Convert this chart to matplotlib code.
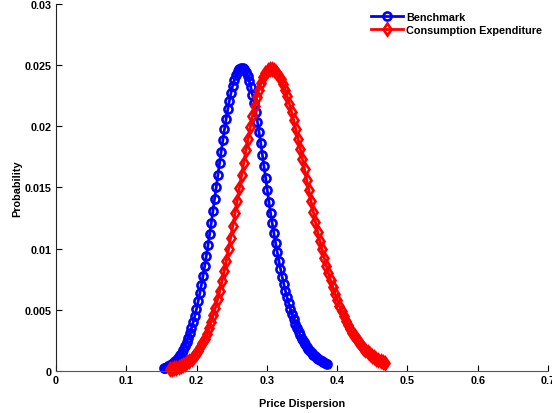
import numpy as np
import matplotlib
matplotlib.use("Agg")
import matplotlib.pyplot as plt

plt.rcParams["font.family"] = ["Liberation Sans", "DejaVu Sans"]
plt.rcParams["font.weight"] = "bold"

# kernel density estimates, 100 points each
bench_x = [
    0.1530, 0.1553, 0.1577, 0.1600, 0.1624, 0.1647, 0.1671, 0.1694, 0.1717, 0.1741,
    0.1764, 0.1788, 0.1811, 0.1835, 0.1858, 0.1882, 0.1905, 0.1928, 0.1952, 0.1975,
    0.1999, 0.2022, 0.2046, 0.2069, 0.2092, 0.2116, 0.2139, 0.2163, 0.2186, 0.2210,
    0.2233, 0.2256, 0.2280, 0.2303, 0.2327, 0.2350, 0.2374, 0.2397, 0.2420, 0.2444,
    0.2467, 0.2491, 0.2514, 0.2538, 0.2561, 0.2585, 0.2608, 0.2631, 0.2655, 0.2678,
    0.2702, 0.2725, 0.2749, 0.2772, 0.2795, 0.2819, 0.2842, 0.2866, 0.2889, 0.2913,
    0.2936, 0.2959, 0.2983, 0.3006, 0.3030, 0.3053, 0.3077, 0.3100, 0.3124, 0.3147,
    0.3170, 0.3194, 0.3217, 0.3241, 0.3264, 0.3288, 0.3311, 0.3334, 0.3358, 0.3381,
    0.3405, 0.3428, 0.3452, 0.3475, 0.3498, 0.3522, 0.3545, 0.3569, 0.3592, 0.3616,
    0.3639, 0.3662, 0.3686, 0.3709, 0.3733, 0.3756, 0.3780, 0.3803, 0.3827, 0.3850,
]
bench_p = [
    0.000214, 0.000261, 0.000317, 0.000383, 0.000461, 0.000553, 0.000660, 0.000785, 0.000930, 0.001096,
    0.001286, 0.001505, 0.001752, 0.002029, 0.002344, 0.002693, 0.003083, 0.003514, 0.003988, 0.004506,
    0.005072, 0.005684, 0.006341, 0.007048, 0.007797, 0.008591, 0.009424, 0.010297, 0.011200, 0.012132,
    0.013087, 0.014057, 0.015034, 0.016011, 0.016981, 0.017935, 0.018858, 0.019748, 0.020591, 0.021380,
    0.022104, 0.022756, 0.023329, 0.023815, 0.024210, 0.024507, 0.024701, 0.024793, 0.024779, 0.024661,
    0.024439, 0.024117, 0.023699, 0.023190, 0.022594, 0.021922, 0.021181, 0.020376, 0.019521, 0.018623,
    0.017687, 0.016732, 0.015761, 0.014779, 0.013804, 0.012899, 0.012065, 0.011258, 0.010481, 0.009737,
    0.009027, 0.008357, 0.007715, 0.007117, 0.006550, 0.006020, 0.005523, 0.005060, 0.004630, 0.004231,
    0.003863, 0.003519, 0.003207, 0.002916, 0.002648, 0.002405, 0.002181, 0.001977, 0.001789, 0.001620,
    0.001463, 0.001322, 0.001195, 0.001077, 0.000972, 0.000876, 0.000789, 0.000711, 0.000639, 0.000575,
]

cons_x = [
    0.1620, 0.1651, 0.1682, 0.1713, 0.1744, 0.1775, 0.1805, 0.1836, 0.1867, 0.1898,
    0.1929, 0.1960, 0.1991, 0.2022, 0.2053, 0.2084, 0.2115, 0.2145, 0.2176, 0.2207,
    0.2238, 0.2269, 0.2300, 0.2331, 0.2362, 0.2393, 0.2424, 0.2455, 0.2485, 0.2516,
    0.2547, 0.2578, 0.2609, 0.2640, 0.2671, 0.2702, 0.2733, 0.2764, 0.2795, 0.2825,
    0.2856, 0.2887, 0.2918, 0.2949, 0.2980, 0.3011, 0.3042, 0.3073, 0.3104, 0.3135,
    0.3165, 0.3196, 0.3227, 0.3258, 0.3289, 0.3320, 0.3351, 0.3382, 0.3413, 0.3444,
    0.3475, 0.3505, 0.3536, 0.3567, 0.3598, 0.3629, 0.3660, 0.3691, 0.3722, 0.3753,
    0.3784, 0.3815, 0.3845, 0.3876, 0.3907, 0.3938, 0.3969, 0.4000, 0.4031, 0.4062,
    0.4093, 0.4124, 0.4155, 0.4185, 0.4216, 0.4247, 0.4278, 0.4309, 0.4340, 0.4371,
    0.4402, 0.4433, 0.4464, 0.4495, 0.4525, 0.4556, 0.4587, 0.4618, 0.4649, 0.4680,
]
cons_p = [
    0.000136, 0.000170, 0.000211, 0.000261, 0.000321, 0.000393, 0.000479, 0.000581, 0.000701, 0.000841,
    0.001005, 0.001195, 0.001415, 0.001667, 0.001954, 0.002280, 0.002646, 0.003057, 0.003515, 0.004022,
    0.004580, 0.005190, 0.005854, 0.006570, 0.007339, 0.008159, 0.009024, 0.009935, 0.010885, 0.011868,
    0.012879, 0.013908, 0.014946, 0.015985, 0.017015, 0.018024, 0.018999, 0.019931, 0.020809, 0.021620,
    0.022356, 0.023005, 0.023559, 0.024008, 0.024351, 0.024579, 0.024689, 0.024687, 0.024598, 0.024429,
    0.024180, 0.023854, 0.023454, 0.022983, 0.022447, 0.021851, 0.021199, 0.020499, 0.019755, 0.018975,
    0.018165, 0.017331, 0.016481, 0.015621, 0.014755, 0.013892, 0.013035, 0.012190, 0.011401, 0.010667,
    0.009958, 0.009277, 0.008624, 0.008002, 0.007410, 0.006848, 0.006317, 0.005817, 0.005347, 0.004907,
    0.004496, 0.004112, 0.003756, 0.003425, 0.003118, 0.002835, 0.002574, 0.002334, 0.002113, 0.001911,
    0.001726, 0.001557, 0.001403, 0.001262, 0.001135, 0.001019, 0.000915, 0.000820, 0.000734, 0.000656,
]

x_ticks = [0, 0.1, 0.2, 0.3, 0.4, 0.5, 0.6, 0.7]
x_labels = ["0", "0.1", "0.2", "0.3", "0.4", "0.5", "0.6", "0.7"]
y_ticks = [0, 0.005, 0.01, 0.015, 0.02, 0.025, 0.03]
y_labels = ["0", "0.005", "0.01", "0.015", "0.02", "0.025", "0.03"]

fig = plt.figure(figsize=(5.52, 4.14), dpi=100)
ax = fig.add_axes([0.1014, 0.1014, 0.8914, 0.8866])

ax.plot(bench_x, bench_p, color="#0000ff", lw=2, marker="o", ms=5.8,
        mfc="none", mew=1.9, label="Benchmark", clip_on=False)
ax.plot(cons_x, cons_p, color="#ff0000", lw=2, marker="d", ms=6,
        mfc="none", mew=1.9, label="Consumption Expenditure", clip_on=False)

ax.set_xlim(0, 0.7)
ax.set_ylim(0, 0.03)
ax.set_xticks(x_ticks)
ax.set_xticklabels(x_labels)
ax.set_yticks(y_ticks)
ax.set_yticklabels(y_labels)
ax.tick_params(direction="in", length=4, width=0.8, labelsize=7.8, pad=3)
for lab in ax.get_xticklabels() + ax.get_yticklabels():
    lab.set_fontweight("bold")

ax.spines["top"].set_visible(False)
ax.spines["right"].set_visible(False)
ax.spines["left"].set_color("#222222")
ax.spines["bottom"].set_color("#555555")

ax.set_xlabel("Price Dispersion", fontsize=7.8, fontweight="bold", labelpad=9)
ax.set_ylabel("Probability", fontsize=7.8, fontweight="bold", labelpad=2)

leg = ax.legend(loc="upper right", bbox_to_anchor=(1.004, 1.0), frameon=False,
                fontsize=7.8, handlelength=3.0, handletextpad=0.3,
                labelspacing=0.3, borderaxespad=0.3)
for t in leg.get_texts():
    t.set_fontweight("bold")

fig.savefig("out.png", dpi=100)
